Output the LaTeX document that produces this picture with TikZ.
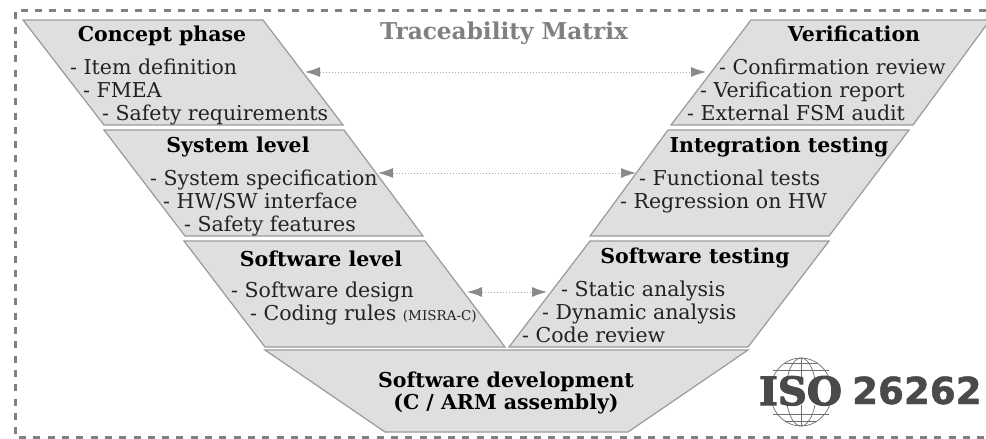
\documentclass[tikz,border=0pt]{standalone}
\usepackage{fontspec}
\setmainfont{DejaVu Serif}
\newfontfamily\sansbold[FakeBold=1.2]{DejaVu Sans Bold}
\newfontfamily\isofont[FakeBold=3]{DejaVu Serif Bold}
\usetikzlibrary{arrows.meta}
\definecolor{panel}{HTML}{DFDFDF}
\definecolor{edgec}{HTML}{9A9A9A}
\definecolor{dark}{HTML}{222222}
\definecolor{arrowc}{HTML}{8A8A8A}
\definecolor{titleg}{HTML}{808080}
\definecolor{logoc}{HTML}{4A4A4A}
\tikzset{
 panelbox/.style={fill=panel,draw=edgec,line width=1.2pt,line join=miter},
 ttl/.style={anchor=base,font=\fontsize{20.5}{23}\selectfont\bfseries,text=black,inner sep=0pt},
 itm/.style={anchor=base west,font=\fontsize{20.5}{23}\selectfont,text=dark,inner sep=0pt},
 trace/.style={draw=arrowc!70,line width=1pt,dotted,{Latex[length=15pt,width=10pt,color=arrowc]}-{Latex[length=15pt,width=10pt,color=arrowc]}},
 globe/.style={draw=logoc!80,line width=.7pt}
}
\begin{document}
\begin{tikzpicture}[x=1pt,y=-1pt]
\useasboundingbox (0,0) rectangle (986,439);
\fill[white] (0,0) rectangle (986,439);
\draw[titleg,line width=3pt,dash pattern=on 7pt off 7.3pt] (1000,10.7) -- (15,10.7) -- (15,437.3) -- (1000,437.3);
% panels
\path[panelbox] (23,20) -- (263,20) -- (343,125) -- (104,125) -- cycle;
\path[panelbox] (104,130) -- (344,130) -- (423,236) -- (185,236) -- cycle;
\path[panelbox] (184,241) -- (425,241) -- (505,347) -- (265,347) -- cycle;
\path[panelbox] (751,20) -- (990,20) -- (913,125) -- (671,125) -- cycle;
\path[panelbox] (668,130) -- (909,130) -- (829,236) -- (590,236) -- cycle;
\path[panelbox] (590,241) -- (829,241) -- (748,347) -- (509,347) -- cycle;
\path[panelbox] (265,350) -- (748,350) -- (628,432) -- (385,432) -- cycle;
% title
\node[anchor=base,inner sep=0pt,font=\fontsize{23.2}{26}\selectfont\bfseries,text=titleg] (tm) at (504,39) {Traceability Matrix};
% left
\node[ttl] (t1) at (162,41) {Concept phase};
\node[itm] (a1) at (70,74) {- Item definition};
\node[itm] (a2) at (83,97) {- FMEA};
\node[itm] (a3) at (102,120) {- Safety requirements};
\node[ttl] (t2) at (238,152) {System level};
\node[itm] (b1) at (150,185) {- System specification};
\node[itm] (b2) at (163,208) {- HW/SW interface};
\node[itm] (b3) at (184,231) {- Safety features};
\node[ttl] (t3) at (321,266) {Software level};
\node[itm] (c1) at (231,297) {- Software design};
\node[itm] (c2) at (250,320) {- Coding rules \fontsize{13.5}{15}\selectfont(MISRA-C)};
% right
\node[ttl] (t4) at (854,41) {Verification};
\node[itm] (d1) at (719,74) {- Confirmation review};
\node[itm] (d2) at (700,97) {- Verification report};
\node[itm] (d3) at (687,120) {- External FSM audit};
\node[ttl] (t5) at (779,152) {Integration testing};
\node[itm] (e1) at (639,185) {- Functional tests};
\node[itm] (e2) at (620,208) {- Regression on HW};
\node[ttl] (t6) at (695,263) {Software testing};
\node[itm] (f1) at (561,296) {- Static analysis};
\node[itm] (f2) at (542,319) {- Dynamic analysis};
\node[itm] (f3) at (522,342) {- Code review};
\node[ttl] (t7) at (506,387) {Software development};
\node[ttl] (t8) at (506,409) {(C / ARM assembly)};
% arrows
\coordinate (l1) at (305,72); \coordinate (r1) at (706,72);
\coordinate (l2) at (378,173); \coordinate (r2) at (636,173);
\coordinate (l3) at (467,292); \coordinate (r3) at (547,292);
\draw[trace] (l1) -- (r1);
\draw[trace] (l2) -- (r2);
\draw[trace] (l3) -- (r3);
% logo
\coordinate (gc) at (801,392);
\begin{scope}
\clip (760,355) rectangle (840,377);
\draw[globe] (gc) ellipse (31 and 34);
\draw[globe] (gc) ellipse (15 and 34);
\draw[globe] (801,358) -- (801,377);
\draw[globe] (773,370) -- (829,370);
\draw[globe] (785,363) -- (817,363);
\end{scope}
\begin{scope}
\clip (760,405) rectangle (840,430);
\draw[globe] (gc) ellipse (31 and 34);
\draw[globe] (gc) ellipse (15 and 34);
\draw[globe] (801,405) -- (801,426);
\draw[globe] (773,414) -- (829,414);
\draw[globe] (785,421) -- (817,421);
\end{scope}
\node[anchor=base,inner sep=0pt,font=\fontsize{41}{44}\selectfont\isofont,text=logoc,xscale=.98,yscale=.95] (iso) at (800.5,405) {ISO};
\node[anchor=base west,inner sep=0pt,font=\fontsize{37.2}{40}\selectfont\sansbold,text=logoc] (num) at (852,404) {26262};
\end{tikzpicture}
\end{document}
